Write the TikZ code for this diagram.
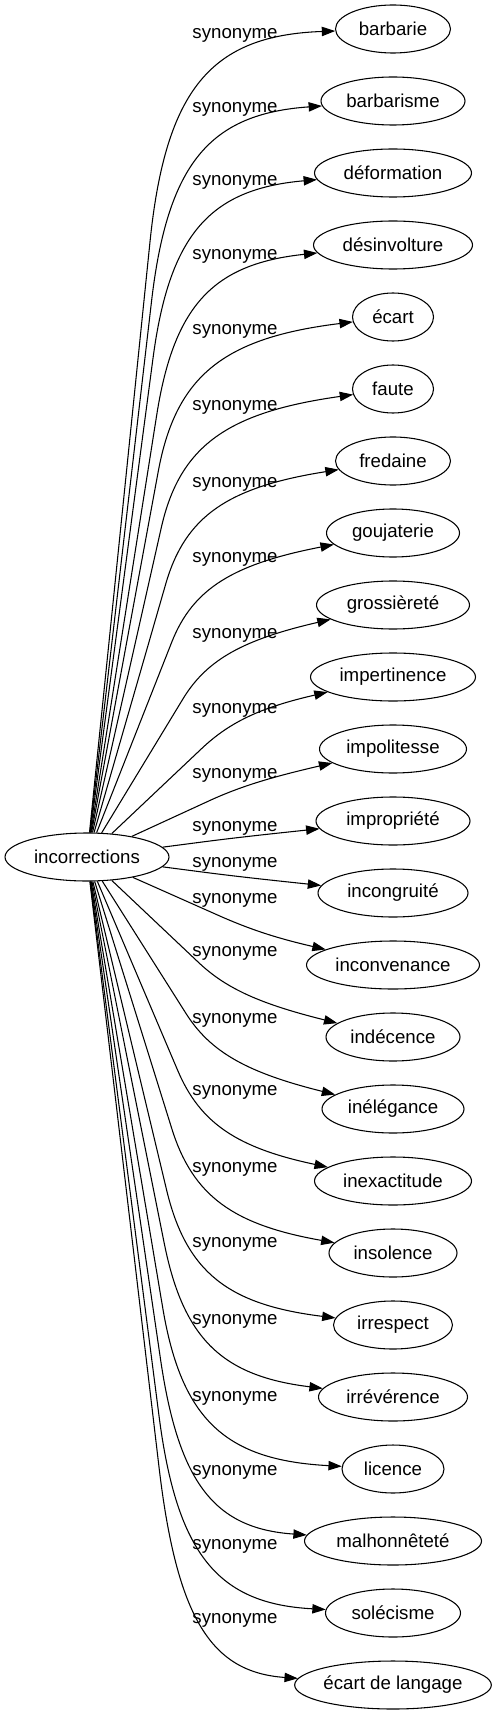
\documentclass[tikz,border=0pt]{standalone}
\usepackage{fontspec}
\setmainfont{Liberation Sans}
\usetikzlibrary{shapes.geometric,arrows.meta,calc}
\begin{document}
\begin{tikzpicture}[x=0.75pt,y=-0.75pt,
  font=\fontsize{14}{16}\selectfont,
  snode/.style={ellipse,draw,line width=0.8pt,inner sep=0pt,minimum width=123pt,minimum height=36pt},
  tnode/.style={ellipse,draw,line width=0.8pt,inner sep=0pt,minimum height=36pt},
  edgeline/.style={line width=0.8pt,-{Triangle[length=10pt,width=7pt]}},
  lbl/.style={inner sep=0pt}]
\useasboundingbox (0,0) rectangle (498,1715);
\node[snode] (src) at (87,857) {incorrections};
\foreach \i/\nm/\w/\ph/\qx/\ly in {
  0/barbarie/115/2/171/33,
  1/barbarisme/144/4/173/107,
  2/déformation/157/5/175/180,
  3/désinvolture/159/6/180/254,
  4/écart/81/7/182/329,
  5/faute/81/8/186/405,
  6/fredaine/115/9/192/482,
  7/goujaterie/133/11/200/557,
  8/grossièreté/153/13/215/633,
  9/impertinence/165/13/240/708,
  10/impolitesse/147/13/250/773,
  11/impropriété/154/6/240/826,
  12/incongruité/150/6/240/862,
  13/inconvenance/173/13/262/898,
  14/indécence/134/14/236/951,
  15/inélégance/142/14/219/1018,
  16/inexactitude/157/12/208/1090,
  17/insolence/128/10/200/1167,
  18/irrespect/119/7/193/1242,
  19/irrévérence/149/7/190/1319,
  20/licence/102/3/188/1396,
  21/malhonnêteté/177/4/185/1470,
  22/solécisme/135/3/183/1544,
  23/écart de langage/196/4/183/1618}{
  \pgfmathsetmacro\ty{29+72*\i}
  \pgfmathsetmacro\s{\i<12 ? 1 : -1}
  \pgfmathsetmacro\qy{\ty+\s*tan(\ph)*(393-\qx)}
  \pgfmathtruncatemacro\ang{180+\s*\ph}
  \node[tnode,minimum width=\w*0.75pt] (t\i) at (393,\ty) {\nm};
  \coordinate (q\i) at (\qx,\qy);
  \coordinate (k\i) at ($(src.center)!0.75!(q\i)$);
  \draw[edgeline] (src) -- (k\i) .. controls ($(k\i)!0.75!(q\i)$) and ($(q\i)!0.25!(t\i.\ang)$) .. (t\i.\ang);
  \node[lbl] (l\i) at (235,\ly+2) {synonyme};
}
\end{tikzpicture}
\end{document}
